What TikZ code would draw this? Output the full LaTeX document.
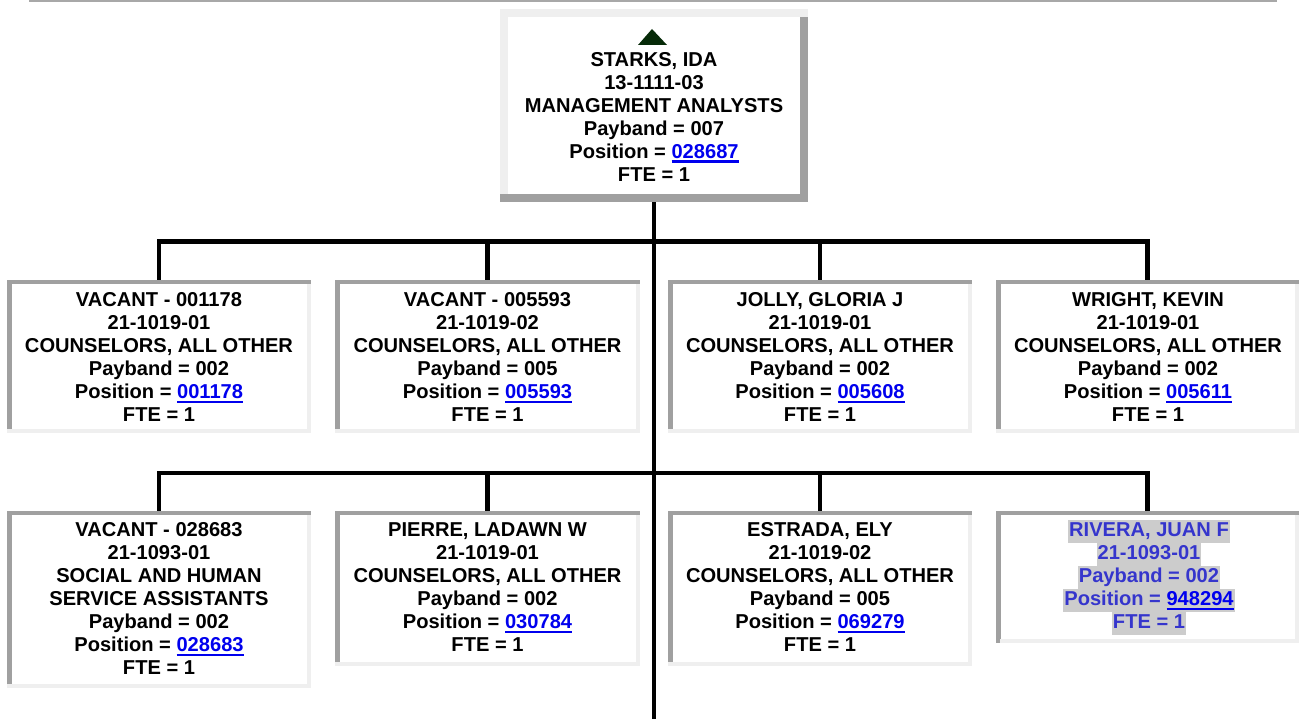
\documentclass[tikz,border=0pt]{standalone}
\usepackage{fontspec}
\setmainfont{Liberation Sans}
\usetikzlibrary{calc}
\definecolor{lnk}{HTML}{0000EE}
\definecolor{dkgray}{HTML}{A0A0A0}
\definecolor{ltgray}{HTML}{EFEFEF}
\definecolor{topline}{HTML}{A8A8A8}
\definecolor{tri}{HTML}{062A08}
\definecolor{riv}{HTML}{3535CC}
\definecolor{hl}{HTML}{CCCCCC}
\newcommand\lnk[1]{\setbox0\hbox{\textcolor{lnk}{#1}}\textcolor{lnk}{\rlap{\rule[-4pt]{\wd0}{2.2pt}}}\box0}
\newcommand\hlt[1]{{\setlength\fboxsep{1pt}\colorbox{hl}{\vrule height 15.5pt depth 5.5pt width 0pt #1}}}
\newcommand\insetframe[1]{%
  \fill[dkgray] (#1.north west) rectangle ([yshift=-4pt]#1.north east);
  \fill[ltgray] ([yshift=4pt]#1.south west) rectangle (#1.south east);
  \fill[dkgray] ([yshift=-4pt]#1.north west) rectangle ([xshift=5pt,yshift=4pt]#1.south west);
  \fill[ltgray] ([xshift=-4pt,yshift=-4pt]#1.north east) rectangle ([yshift=4pt]#1.south east);
}
\newcommand\outsetframe[1]{%
  \fill[ltgray] (#1.north west) rectangle ([yshift=-8pt]#1.north east);
  \fill[ltgray] ([yshift=-8pt]#1.north west) rectangle ([xshift=8pt,yshift=8pt]#1.south west);
  \fill[dkgray] ([xshift=-8pt,yshift=-8pt]#1.north east) rectangle (#1.south east);
  \fill[dkgray] ([yshift=8pt]#1.south west) rectangle (#1.south east);
}
\tikzset{
  card/.style={rectangle, inner sep=0pt, outer sep=0pt, fill=white, draw=none},
  txt/.style={align=center, inner sep=0pt, outer sep=0pt, anchor=north,
    font={\fontsize{20.1}{23}\selectfont\bfseries}},
  conn/.style={line width=4.5pt, black, line join=miter, line cap=rect},
}
\begin{document}
\begin{tikzpicture}[x=1pt,y=-1pt]
\useasboundingbox (0,0) rectangle (1299,719);
% top rule
\fill[topline] (29,0) rectangle (1277,2.5);

% boxes (geometry)
\node[card, minimum width=308pt, minimum height=193pt] (top) at (654,105.5) {};
\node[card, minimum width=304pt, minimum height=153pt] (b1) at (159,356.5) {};
\node[card, minimum width=305pt, minimum height=153pt] (b2) at (487.5,356.5) {};
\node[card, minimum width=304pt, minimum height=153pt] (b3) at (820,356.5) {};
\node[card, minimum width=303pt, minimum height=153pt] (b4) at (1147.5,356.5) {};
\node[card, minimum width=304pt, minimum height=177pt] (b5) at (159,599.5) {};
\node[card, minimum width=305pt, minimum height=155pt] (b6) at (487.5,588.5) {};
\node[card, minimum width=304pt, minimum height=155pt] (b7) at (820,588.5) {};
\node[card, minimum width=303pt, minimum height=132pt] (b8) at (1147.5,577) {};

% connectors
\coordinate (j1) at (654,241.5);
\coordinate (j2) at (654,473);
\coordinate (tend) at (654,719);
\draw[conn, line cap=butt] (top.south) -- (tend);
\draw[conn] (b1.north) -- (b1.north |- j1) -- (b4.north |- j1) -- (b4.north);
\draw[conn, line cap=butt] (b2.north) -- (b2.north |- j1);
\draw[conn, line cap=butt] (b3.north) -- (b3.north |- j1);
\draw[conn] (b5.north) -- (b5.north |- j2) -- (b8.north |- j2) -- (b8.north);
\draw[conn, line cap=butt] (b6.north) -- (b6.north |- j2);
\draw[conn, line cap=butt] (b7.north) -- (b7.north |- j2);

% frames
\outsetframe{top}
\foreach \b in {b1,b2,b3,b4,b5,b6,b7,b8}{\insetframe{\b}}
\fill[dkgray] ([yshift=-4pt]b8.north west) rectangle ([xshift=4pt]b8.south west);

% top card
\fill[tri] (638,45) -- (652,29) -- (667,45) -- cycle;
\node[txt] (ttop) at (654,50.6) {\strut STARKS, IDA\\ \strut 13-1111-03\\ \strut MANAGEMENT ANALYSTS\\ \strut Payband = 007\\ \strut Position = \lnk{028687}\\ \strut FTE = 1};

% row 1
\node[txt] (t1) at (159,290.6) {\strut VACANT - 001178\\ \strut 21-1019-01\\ \strut COUNSELORS, ALL OTHER\\ \strut Payband = 002\\ \strut Position = \lnk{001178}\\ \strut FTE = 1};
\node[txt] (t2) at (487.5,290.6) {\strut VACANT - 005593\\ \strut 21-1019-02\\ \strut COUNSELORS, ALL OTHER\\ \strut Payband = 005\\ \strut Position = \lnk{005593}\\ \strut FTE = 1};
\node[txt] (t3) at (820,290.6) {\strut JOLLY, GLORIA J\\ \strut 21-1019-01\\ \strut COUNSELORS, ALL OTHER\\ \strut Payband = 002\\ \strut Position = \lnk{005608}\\ \strut FTE = 1};
\node[txt] (t4) at (1148,290.6) {\strut WRIGHT, KEVIN\\ \strut 21-1019-01\\ \strut COUNSELORS, ALL OTHER\\ \strut Payband = 002\\ \strut Position = \lnk{005611}\\ \strut FTE = 1};

% row 2
\node[txt] (t5) at (159,520.6) {\strut VACANT - 028683\\ \strut 21-1093-01\\ \strut SOCIAL AND HUMAN\\ \strut SERVICE ASSISTANTS\\ \strut Payband = 002\\ \strut Position = \lnk{028683}\\ \strut FTE = 1};
\node[txt] (t6) at (487.5,520.6) {\strut PIERRE, LADAWN W\\ \strut 21-1019-01\\ \strut COUNSELORS, ALL OTHER\\ \strut Payband = 002\\ \strut Position = \lnk{030784}\\ \strut FTE = 1};
\node[txt] (t7) at (820,520.6) {\strut ESTRADA, ELY\\ \strut 21-1019-02\\ \strut COUNSELORS, ALL OTHER\\ \strut Payband = 005\\ \strut Position = \lnk{069279}\\ \strut FTE = 1};
\node[txt, text=riv] (t8) at (1149,520.2) {\hlt{RIVERA, JUAN F}\\ \hlt{21-1093-01}\\ \hlt{Payband = 002}\\ \hlt{Position = \lnk{948294}}\\ \hlt{FTE = 1}};
\end{tikzpicture}
\end{document}
